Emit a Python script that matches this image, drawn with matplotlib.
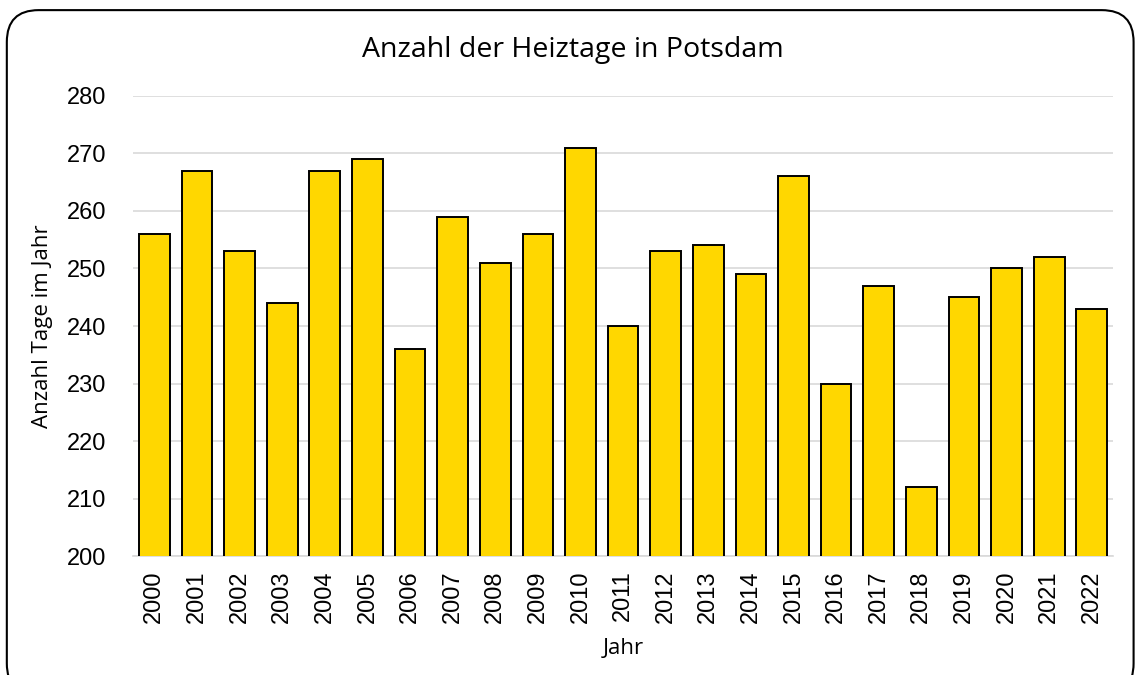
import matplotlib.pyplot as plt
from matplotlib.patches import FancyBboxPatch

years = [str(y) for y in range(2000, 2023)]
heiztage = [256, 267, 253, 244, 267, 269, 236, 259, 251, 256, 271, 240,
            253, 254, 249, 266, 230, 247, 212, 245, 250, 252, 243]
yticks = [200, 210, 220, 230, 240, 250, 260, 270, 280]

plt.rcParams['font.family'] = ['Open Sans', 'DejaVu Sans']

fig = plt.figure(figsize=(11.37, 6.75), dpi=100)
ax = fig.add_axes([0.117, 0.176, 0.862, 0.682])

# rounded frame around the whole chart (bottom runs past the image edge)
frame = FancyBboxPatch((0.006, -0.03), 0.991, 1.015, transform=fig.transFigure,
                       boxstyle="round,pad=0,rounding_size=0.028",
                       facecolor='none', edgecolor='black', linewidth=1.5,
                       mutation_aspect=1137 / 675.0, clip_on=False)
fig.patches.append(frame)

ax.bar(years, heiztage, width=0.72, color='#FFD700', edgecolor='black',
       linewidth=1.4, zorder=3)

ax.set_ylim(200, 280)
ax.set_xlim(-0.5, len(years) - 0.5)
ax.set_yticks(yticks)
ax.grid(axis='y', color='#d9d9d9', linewidth=1.2, zorder=0)
for s in ['top', 'right', 'left']:
    ax.spines[s].set_visible(False)
ax.spines['bottom'].set_color('#d9d9d9')
ax.spines['bottom'].set_linewidth(1.2)
ax.tick_params(axis='both', length=0, labelsize=17)
ax.tick_params(axis='y', pad=19)
ax.tick_params(axis='x', pad=10)
for lbl in ax.get_xticklabels() + ax.get_yticklabels():
    lbl.set_family('Liberation Sans')
plt.setp(ax.get_xticklabels(), rotation=90)

fig.text(0.504, 0.926, "Anzahl der Heiztage in Potsdam", fontsize=20.5,
         ha='center', va='center')
ax.set_xlabel("Jahr", fontsize=16, labelpad=11)
ax.set_ylabel("Anzahl Tage im Jahr", fontsize=16, labelpad=10)

fig.savefig("out.png", dpi=100)
